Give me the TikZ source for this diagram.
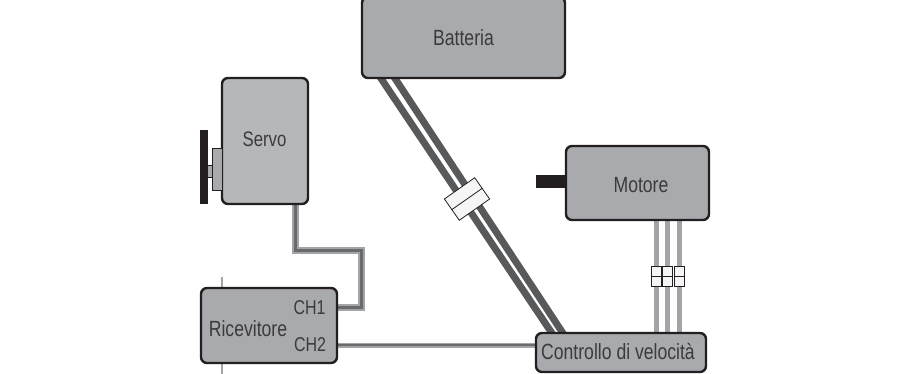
\documentclass[tikz,border=0pt]{standalone}
\usepackage{fontspec}
\setmainfont[FakeStretch=0.8]{Liberation Sans}
\usetikzlibrary{backgrounds}
\definecolor{boxgray}{HTML}{A9AAAE}
\definecolor{servogray}{HTML}{B6B7BA}
\definecolor{edgedark}{HTML}{231F20}
\definecolor{textdark}{HTML}{3B3B3D}
\definecolor{wiredark}{HTML}{58595B}
\definecolor{wiregray}{HTML}{A3A4A7}
\tikzset{
    unit/.style={draw=edgedark, line width=2.4pt, rounded corners=6pt, fill=boxgray,
        text=textdark, inner sep=0pt},
    label/.style={text=textdark, font=\fontsize{22}{22}\selectfont, inner sep=0pt},
    sleeve/.style={draw=edgedark, line width=0.8pt, fill=white!96!black, inner sep=0pt},
    power/.style={draw=wiredark, line width=7pt, shorten <=-3pt, shorten >=-3pt},
    phase/.style={draw=wiregray, line width=5pt},
    signal/.style={draw=wiregray, line width=7pt, line join=miter},
    signalcore/.style={draw=wiredark!90, line width=3pt},
}
\begin{document}
\begin{tikzpicture}[x=1pt, y=-1pt]
    \useasboundingbox (0, 0) rectangle (912, 374);

    % scatole
    \node[unit, minimum width=203pt, minimum height=81pt] (batteria) at (463.5, 37.5) {};
    \node[label] at (463.5, 38) {Batteria};
    \node[unit, fill=servogray, minimum width=86pt, minimum height=126pt] (servo) at (265, 141) {};
    \node[label, font=\fontsize{21}{21}\selectfont] at (264.5, 139) {Servo};
    \node[unit, minimum width=136pt, minimum height=75pt] (ricevitore) at (269, 325.5) {};
    \node[label] at (248, 329) {Ricevitore};
    \node[label, font=\fontsize{20}{20}\selectfont] (ch1) at (309.5, 307.5) {CH1};
    \node[label, font=\fontsize{20}{20}\selectfont] (ch2) at (310, 345) {CH2};
    \node[unit, minimum width=143pt, minimum height=74pt] (motore) at (637.5, 183) {};
    \node[label] at (641, 185) {Motore};
    \node[unit, minimum width=170pt, minimum height=39pt] (controllo) at (621, 352.5) {};
    \node[label] at (618, 352) {Controllo di velocità};

    % albero del servo
    \node[draw=edgedark, line width=0.9pt, fill=boxgray, minimum width=10pt, minimum height=42pt, inner sep=0pt] (servohub) at (217, 169) {};
    \node[draw=edgedark, line width=0.9pt, fill=boxgray, minimum width=5pt, minimum height=12pt, inner sep=0pt] (servoaxis) at (209.5, 171) {};
    \node[fill=edgedark, minimum width=8pt, minimum height=74pt, inner sep=0pt] (servodisc) at (204, 167) {};
    % albero del motore
    \node[fill=edgedark, minimum width=31pt, minimum height=13pt, inner sep=0pt] (motorshaft) at (551, 181.5) {};

    \begin{scope}[on background layer]
        % antenna
        \coordinate (anttop) at (222, 277);
        \coordinate (antbot) at (222, 374);
        \draw[wiregray, line width=1.2pt] (anttop) -- (antbot);

        % batteria
        \draw[power] ([xshift=-82pt]batteria.south) -- ([xshift=-70pt]controllo.north);
        \draw[power] ([xshift=-68pt]batteria.south) -- ([xshift=-59pt]controllo.north);

        % segnali
        \coordinate (bendA) at (295, 250);
        \coordinate (bendB) at (361, 250);
        \draw[signal] ([xshift=30pt]servo.south) -- (bendA) -- (bendB) -- (bendB |- ch1) -- (ch1 -| ricevitore.east);
        \draw[signalcore] ([xshift=30pt]servo.south) -- (bendA) -- (bendB) -- (bendB |- ch1) -- (ch1 -| ricevitore.east);
        \draw[wiregray, line width=5pt] (ch2 -| ricevitore.east) -- (ch2 -| controllo.west);
        \draw[wiredark!90, line width=2.4pt] (ch2 -| ricevitore.east) -- (ch2 -| controllo.west);

        % fasi del motore
        \foreach \name/\xpos in {a/656, b/667.5, c/679} {
            \coordinate (phase\name) at (\xpos, 276);
            \draw[phase] (phase\name |- motore.south) -- (phase\name |- controllo.north);
        }
    \end{scope}

    % connettori
    \node[sleeve, rotate=35, minimum width=37pt, minimum height=26pt] (sleevebat) at (467, 199) {};
    \draw[edgedark, line width=0.8pt] (sleevebat.west) -- (sleevebat.east);
    \foreach \name in {a, b, c} {
        \node[sleeve, minimum width=10pt, minimum height=20pt] (sleeve\name) at (phase\name) {};
        \draw[edgedark, line width=0.7pt] (sleeve\name.west) -- (sleeve\name.east);
    }
\end{tikzpicture}
\end{document}
